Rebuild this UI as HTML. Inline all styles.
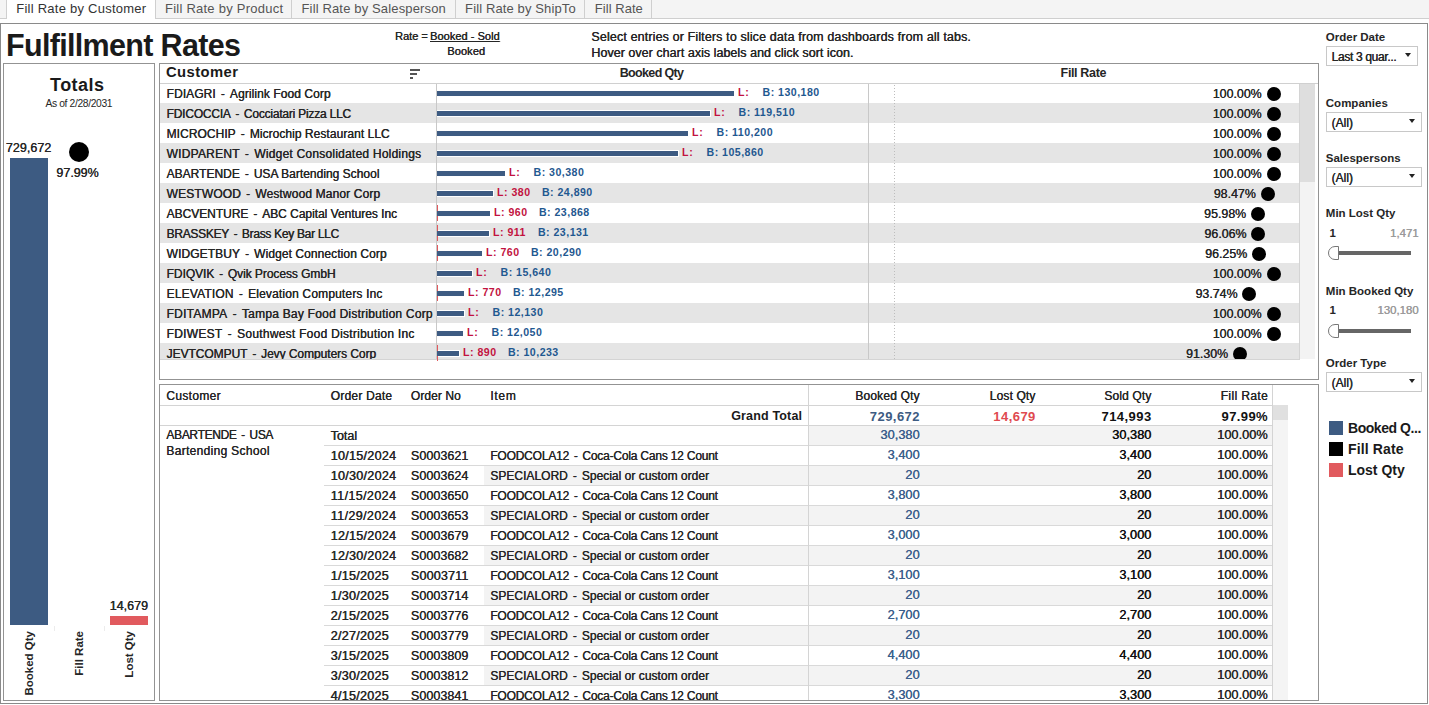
<!DOCTYPE html>
<html><head><meta charset="utf-8"><style>
html,body{margin:0;padding:0;width:1429px;height:705px;overflow:hidden;background:#fff;}
body{position:relative;font-family:"Liberation Sans",sans-serif;}
.a{position:absolute;}
.t{position:absolute;line-height:1;white-space:nowrap;}
.n{text-shadow:0.3px 0 0 currentColor;}
</style></head><body>
<div class="a" style="left:0px;top:0px;width:1429px;height:18px;background:#f4f4f4;"></div>
<div class="a" style="left:0px;top:18px;width:1429px;height:1px;background:#cfcfcf;"></div>
<div class="a" style="left:7px;top:0px;width:148px;height:19px;background:#ffffff;"></div>
<div class="a" style="left:6px;top:0px;width:1px;height:18px;background:#cfcfcf;"></div>
<div class="a" style="left:155px;top:0px;width:1px;height:18px;background:#cfcfcf;"></div>
<div class="a" style="left:291px;top:0px;width:1px;height:18px;background:#cfcfcf;"></div>
<div class="a" style="left:455px;top:0px;width:1px;height:18px;background:#cfcfcf;"></div>
<div class="a" style="left:584px;top:0px;width:1px;height:18px;background:#cfcfcf;"></div>
<div class="a" style="left:651px;top:0px;width:1px;height:18px;background:#cfcfcf;"></div>
<div class="a" style="left:0px;top:23px;width:1428px;height:681px;border:1px solid #8a8a8a;box-sizing:border-box;"></div>
<div class="a" style="left:3px;top:63px;width:152px;height:638px;border:1px solid #939393;box-sizing:border-box;"></div>
<div class="a" style="left:10px;top:158px;width:38px;height:467px;background:#3d5b82;"></div>
<div class="a" style="left:69px;top:141.7px;width:20px;height:20px;border-radius:50%;background:#000"></div>
<div class="a" style="left:110px;top:616px;width:38px;height:9px;background:#e15a5e;"></div>
<div class="a" style="left:54px;top:626px;width:1px;height:5px;background:#ececec;"></div>
<div class="a" style="left:104px;top:626px;width:1px;height:5px;background:#ececec;"></div>
<div class="a" style="left:-20.6px;top:672.5px;width:100px;height:16px;line-height:16px;text-align:right;font-size:11.5px;font-weight:bold;color:#262626;transform:rotate(-90deg);white-space:nowrap">Booked Qty</div>
<div class="a" style="left:29.0px;top:672.5px;width:100px;height:16px;line-height:16px;text-align:right;font-size:11.5px;font-weight:bold;color:#262626;transform:rotate(-90deg);white-space:nowrap">Fill Rate</div>
<div class="a" style="left:79.0px;top:672.5px;width:100px;height:16px;line-height:16px;text-align:right;font-size:11.5px;font-weight:bold;color:#262626;transform:rotate(-90deg);white-space:nowrap">Lost Qty</div>
<div class="a" style="left:159px;top:63px;width:1160px;height:317px;border:1px solid #939393;box-sizing:border-box;"></div>
<div class="a" style="left:410px;top:69px;width:10px;height:2px;background:#555;"></div>
<div class="a" style="left:410px;top:73px;width:7px;height:2px;background:#555;"></div>
<div class="a" style="left:410px;top:77px;width:3px;height:2px;background:#555;"></div>
<div class="a" style="left:160px;top:83px;width:1158px;height:1px;background:#d0d0d0;"></div>
<div class="a" style="left:160px;top:84px;width:1158px;height:275px;overflow:hidden">
<div class="a" style="left:0;top:19px;width:1139px;height:20px;background:#e5e5e5"></div>
<div class="a" style="left:0;top:59px;width:1139px;height:20px;background:#e5e5e5"></div>
<div class="a" style="left:0;top:99px;width:1139px;height:20px;background:#e5e5e5"></div>
<div class="a" style="left:0;top:139px;width:1139px;height:20px;background:#e5e5e5"></div>
<div class="a" style="left:0;top:179px;width:1139px;height:20px;background:#e5e5e5"></div>
<div class="a" style="left:0;top:219px;width:1139px;height:20px;background:#e5e5e5"></div>
<div class="a" style="left:0;top:259px;width:1139px;height:20px;background:#e5e5e5"></div>
</div>
<div class="a" style="left:436px;top:84px;width:1px;height:275px;background:#c8c8c8;"></div>
<div class="a" style="left:868px;top:84px;width:1px;height:275px;background:#c8c8c8;"></div>
<div class="a" style="left:894px;top:85px;width:1px;height:274px;background:repeating-linear-gradient(to bottom,#bdbdbd 0 1px,transparent 1px 3px)"></div>
<div class="a" style="left:1299px;top:84px;width:1px;height:275px;background:#d4d4d4;"></div>
<div class="a" style="left:160px;top:359px;width:1140px;height:1px;background:#d4d4d4;"></div>
<div class="a" style="left:1300px;top:84px;width:15px;height:275px;background:#f3f3f3;"></div>
<div class="a" style="left:1300px;top:84px;width:15px;height:98px;background:#dedede;"></div>
<div class="a" style="left:437px;top:91px;width:297px;height:5px;background:#3d5b82;"></div>
<div class="a" style="left:437px;top:111px;width:273px;height:5px;background:#3d5b82;box-shadow:1px 0 0 #fff,0 1px 0 #fff,0 -1px 0 #fff,1px 1px 0 #fff,1px -1px 0 #fff;"></div>
<div class="a" style="left:437px;top:131px;width:251px;height:5px;background:#3d5b82;"></div>
<div class="a" style="left:437px;top:151px;width:241px;height:5px;background:#3d5b82;box-shadow:1px 0 0 #fff,0 1px 0 #fff,0 -1px 0 #fff,1px 1px 0 #fff,1px -1px 0 #fff;"></div>
<div class="a" style="left:437px;top:171px;width:68px;height:5px;background:#3d5b82;"></div>
<div class="a" style="left:437px;top:191px;width:56px;height:5px;background:#3d5b82;box-shadow:1px 0 0 #fff,0 1px 0 #fff,0 -1px 0 #fff,1px 1px 0 #fff,1px -1px 0 #fff;"></div>
<div class="a" style="left:437px;top:211px;width:53px;height:5px;background:#3d5b82;"></div>
<div class="a" style="left:437px;top:205px;width:1px;height:16px;background:#e15a5e"></div>
<div class="a" style="left:437px;top:211px;width:53px;height:5px;background:#3d5b82;"></div>
<div class="a" style="left:437px;top:231px;width:52px;height:5px;background:#3d5b82;box-shadow:1px 0 0 #fff,0 1px 0 #fff,0 -1px 0 #fff,1px 1px 0 #fff,1px -1px 0 #fff;"></div>
<div class="a" style="left:437px;top:225px;width:1px;height:16px;background:#e15a5e"></div>
<div class="a" style="left:437px;top:231px;width:52px;height:5px;background:#3d5b82;"></div>
<div class="a" style="left:437px;top:251px;width:45px;height:5px;background:#3d5b82;"></div>
<div class="a" style="left:437px;top:245px;width:1px;height:16px;background:#e15a5e"></div>
<div class="a" style="left:437px;top:251px;width:45px;height:5px;background:#3d5b82;"></div>
<div class="a" style="left:437px;top:271px;width:35px;height:5px;background:#3d5b82;box-shadow:1px 0 0 #fff,0 1px 0 #fff,0 -1px 0 #fff,1px 1px 0 #fff,1px -1px 0 #fff;"></div>
<div class="a" style="left:437px;top:291px;width:27px;height:5px;background:#3d5b82;"></div>
<div class="a" style="left:437px;top:285px;width:1px;height:16px;background:#e15a5e"></div>
<div class="a" style="left:437px;top:291px;width:27px;height:5px;background:#3d5b82;"></div>
<div class="a" style="left:437px;top:311px;width:27px;height:5px;background:#3d5b82;box-shadow:1px 0 0 #fff,0 1px 0 #fff,0 -1px 0 #fff,1px 1px 0 #fff,1px -1px 0 #fff;"></div>
<div class="a" style="left:437px;top:331px;width:26px;height:5px;background:#3d5b82;"></div>
<div class="a" style="left:437px;top:351px;width:22px;height:5px;background:#3d5b82;box-shadow:1px 0 0 #fff,0 1px 0 #fff,0 -1px 0 #fff,1px 1px 0 #fff,1px -1px 0 #fff;"></div>
<div class="a" style="left:437px;top:345px;width:1px;height:16px;background:#e15a5e"></div>
<div class="a" style="left:437px;top:351px;width:22px;height:5px;background:#3d5b82;"></div>
<div class="a" style="left:860px;top:84px;width:439px;height:275px;overflow:hidden">
<div class="a" style="left:406.5999999999999px;top:2.5px;width:14px;height:14px;border-radius:50%;background:#000"></div>
<div class="a" style="left:406.5999999999999px;top:22.5px;width:14px;height:14px;border-radius:50%;background:#000"></div>
<div class="a" style="left:406.5999999999999px;top:42.5px;width:14px;height:14px;border-radius:50%;background:#000"></div>
<div class="a" style="left:406.5999999999999px;top:62.5px;width:14px;height:14px;border-radius:50%;background:#000"></div>
<div class="a" style="left:406.5999999999999px;top:82.5px;width:14px;height:14px;border-radius:50%;background:#000"></div>
<div class="a" style="left:400.6911399999999px;top:102.5px;width:14px;height:14px;border-radius:50%;background:#000"></div>
<div class="a" style="left:391.07475999999997px;top:122.5px;width:14px;height:14px;border-radius:50%;background:#000"></div>
<div class="a" style="left:391.3837199999998px;top:142.5px;width:14px;height:14px;border-radius:50%;background:#000"></div>
<div class="a" style="left:392.11749999999984px;top:162.5px;width:14px;height:14px;border-radius:50%;background:#000"></div>
<div class="a" style="left:406.5999999999999px;top:182.5px;width:14px;height:14px;border-radius:50%;background:#000"></div>
<div class="a" style="left:382.4238799999998px;top:202.5px;width:14px;height:14px;border-radius:50%;background:#000"></div>
<div class="a" style="left:406.5999999999999px;top:222.5px;width:14px;height:14px;border-radius:50%;background:#000"></div>
<div class="a" style="left:406.5999999999999px;top:242.5px;width:14px;height:14px;border-radius:50%;background:#000"></div>
<div class="a" style="left:373.00059999999985px;top:262.5px;width:14px;height:14px;border-radius:50%;background:#000"></div>
</div>
<div class="a" style="left:1326px;top:46px;width:92px;height:20px;background:#fff;border:1px solid #c8c8c8;box-sizing:border-box;"></div>
<div class="a" style="left:1405px;top:53px;width:0;height:0;border-left:3px solid transparent;border-right:3px solid transparent;border-top:4px solid #222"></div>
<div class="a" style="left:1326px;top:112px;width:96px;height:20px;background:#fff;border:1px solid #c8c8c8;box-sizing:border-box;"></div>
<div class="a" style="left:1409px;top:119px;width:0;height:0;border-left:3px solid transparent;border-right:3px solid transparent;border-top:4px solid #222"></div>
<div class="a" style="left:1326px;top:167px;width:96px;height:20px;background:#fff;border:1px solid #c8c8c8;box-sizing:border-box;"></div>
<div class="a" style="left:1409px;top:174px;width:0;height:0;border-left:3px solid transparent;border-right:3px solid transparent;border-top:4px solid #222"></div>
<div class="a" style="left:1339px;top:251.2px;width:72px;height:4px;background:#666;"></div>
<div class="a" style="left:1328px;top:246.2px;width:9px;height:12px;border:1px solid #777;border-radius:7px 0 0 7px;background:#fff"></div>
<div class="a" style="left:1339px;top:328.7px;width:72px;height:4px;background:#666;"></div>
<div class="a" style="left:1328px;top:323.7px;width:9px;height:12px;border:1px solid #777;border-radius:7px 0 0 7px;background:#fff"></div>
<div class="a" style="left:1326px;top:372px;width:96px;height:20px;background:#fff;border:1px solid #c8c8c8;box-sizing:border-box;"></div>
<div class="a" style="left:1409px;top:379px;width:0;height:0;border-left:3px solid transparent;border-right:3px solid transparent;border-top:4px solid #222"></div>
<div class="a" style="left:1329px;top:421px;width:14px;height:14px;background:#3d5b82;"></div>
<div class="a" style="left:1329px;top:442px;width:14px;height:14px;background:#000;"></div>
<div class="a" style="left:1329px;top:463px;width:14px;height:14px;background:#e15a5e;"></div>
<div class="a" style="left:159px;top:384px;width:1160px;height:317px;border:1px solid #939393;box-sizing:border-box;"></div>
<div class="a" style="left:160px;top:405px;width:1112px;height:1px;background:#d4d4d4;"></div>
<div class="a" style="left:808px;top:385px;width:1px;height:315px;background:#d4d4d4;"></div>
<div class="a" style="left:1272px;top:385px;width:1px;height:315px;background:#d4d4d4;"></div>
<div class="a" style="left:1273px;top:405px;width:15px;height:295px;background:#f4f4f4;"></div>
<div class="a" style="left:1273px;top:405px;width:15px;height:15px;background:#e0e0e0;"></div>
<div class="a" style="left:160px;top:425px;width:1112px;height:1px;background:#d4d4d4;"></div>
<div class="a" style="left:160px;top:425px;width:1112px;height:275px;overflow:hidden">
<div class="a" style="left:649px;top:1px;width:463px;height:19px;background:#f3f3f3"></div>
<div class="a" style="left:164px;top:20px;width:948px;height:1px;background:#d9d9d9"></div>
<div class="a" style="left:324px;top:41px;width:788px;height:19px;background:#f3f3f3"></div>
<div class="a" style="left:164px;top:40px;width:948px;height:1px;background:#d9d9d9"></div>
<div class="a" style="left:164px;top:60px;width:948px;height:1px;background:#d9d9d9"></div>
<div class="a" style="left:324px;top:81px;width:788px;height:19px;background:#f3f3f3"></div>
<div class="a" style="left:164px;top:80px;width:948px;height:1px;background:#d9d9d9"></div>
<div class="a" style="left:164px;top:100px;width:948px;height:1px;background:#d9d9d9"></div>
<div class="a" style="left:324px;top:121px;width:788px;height:19px;background:#f3f3f3"></div>
<div class="a" style="left:164px;top:120px;width:948px;height:1px;background:#d9d9d9"></div>
<div class="a" style="left:164px;top:140px;width:948px;height:1px;background:#d9d9d9"></div>
<div class="a" style="left:324px;top:161px;width:788px;height:19px;background:#f3f3f3"></div>
<div class="a" style="left:164px;top:160px;width:948px;height:1px;background:#d9d9d9"></div>
<div class="a" style="left:164px;top:180px;width:948px;height:1px;background:#d9d9d9"></div>
<div class="a" style="left:324px;top:201px;width:788px;height:19px;background:#f3f3f3"></div>
<div class="a" style="left:164px;top:200px;width:948px;height:1px;background:#d9d9d9"></div>
<div class="a" style="left:164px;top:220px;width:948px;height:1px;background:#d9d9d9"></div>
<div class="a" style="left:324px;top:241px;width:788px;height:19px;background:#f3f3f3"></div>
<div class="a" style="left:164px;top:240px;width:948px;height:1px;background:#d9d9d9"></div>
<div class="a" style="left:164px;top:260px;width:948px;height:1px;background:#d9d9d9"></div>
</div>
<div class="a" style="left:808px;top:385px;width:1px;height:315px;background:#d4d4d4;"></div>
<div class="t n" style="top:1.80px;font-size:13px;font-weight:normal;color:#333;letter-spacing:0.241px;left:16.30px;text-shadow:none;">Fill Rate by Customer</div>
<div class="t n" style="top:1.80px;font-size:13px;font-weight:normal;color:#555;letter-spacing:0.240px;left:165.00px;text-shadow:none;">Fill Rate by Product</div>
<div class="t n" style="top:1.80px;font-size:13px;font-weight:normal;color:#555;letter-spacing:0.148px;left:301.50px;text-shadow:none;">Fill Rate by Salesperson</div>
<div class="t n" style="top:1.80px;font-size:13px;font-weight:normal;color:#555;letter-spacing:0.123px;left:465.10px;text-shadow:none;">Fill Rate by ShipTo</div>
<div class="t n" style="top:1.80px;font-size:13px;font-weight:normal;color:#555;letter-spacing:0.040px;left:594.80px;text-shadow:none;">Fill Rate</div>
<div class="t" style="top:29.88px;font-size:30.5px;font-weight:bold;color:#1a1a1a;letter-spacing:-0.670px;left:6.00px;">Fulfillment Rates</div>
<div class="t n" style="top:30.89px;font-size:11px;font-weight:normal;color:#262626;left:395.00px;">Rate = </div>
<div class="t n" style="top:30.89px;font-size:11px;font-weight:normal;color:#262626;letter-spacing:0.033px;text-decoration:underline;left:430.00px;">Booked - Sold</div>
<div class="t n" style="top:45.89px;font-size:11px;font-weight:normal;color:#262626;letter-spacing:0.098px;left:447.20px;">Booked</div>
<div class="t n" style="top:30.82px;font-size:12.5px;font-weight:normal;color:#262626;letter-spacing:0.133px;left:591.30px;">Select entries or Filters to slice data from dashboards from all tabs.</div>
<div class="t n" style="top:46.92px;font-size:12.5px;font-weight:normal;color:#262626;letter-spacing:0.031px;left:591.30px;">Hover over chart axis labels and click sort icon.</div>
<div class="t" style="top:76.16px;font-size:18px;font-weight:bold;color:#1a1a1a;letter-spacing:0.466px;left:50.00px;">Totals</div>
<div class="t n" style="top:99.18px;font-size:10.3px;font-weight:normal;color:#262626;letter-spacing:-0.352px;left:45.40px;text-shadow:none;">As of 2/28/2031</div>
<div class="t n" style="top:142.32px;font-size:12.5px;font-weight:normal;color:#262626;letter-spacing:0.036px;left:5.70px;">729,672</div>
<div class="t n" style="top:167.12px;font-size:12.5px;font-weight:normal;color:#262626;letter-spacing:-0.019px;left:56.30px;">97.99%</div>
<div class="t n" style="top:600.32px;font-size:12.5px;font-weight:normal;color:#262626;letter-spacing:0.034px;left:109.60px;">14,679</div>
<div class="t" style="top:65.37px;font-size:14.8px;font-weight:bold;color:#1a1a1a;letter-spacing:0.419px;left:166.00px;">Customer</div>
<div class="t" style="top:67.12px;font-size:12.5px;font-weight:bold;color:#262626;letter-spacing:-0.650px;left:619.70px;">Booked Qty</div>
<div class="t" style="top:67.12px;font-size:12.5px;font-weight:bold;color:#262626;letter-spacing:-0.353px;left:1060.60px;">Fill Rate</div>
<div class="t n" style="top:88.44px;font-size:12px;font-weight:normal;color:#262626;letter-spacing:0.078px;clip-path:inset(-10px -10px -258.56px -10px);left:166.50px;">FDIAGRI<span style="padding:0 1.6px"> - </span>Agrilink Food Corp</div>
<div class="t" style="top:86.93px;font-size:10.6px;font-weight:bold;color:#c2133f;letter-spacing:0.800px;clip-path:inset(-10px -10px -261.47px -10px);left:738.00px;">L:</div>
<div class="t" style="top:86.93px;font-size:10.6px;font-weight:bold;color:#1f5890;letter-spacing:0.466px;clip-path:inset(-10px -10px -261.47px -10px);left:762.60px;">B: 130,180</div>
<div class="t n" style="top:88.10px;font-size:12.4px;font-weight:normal;color:#262626;clip-path:inset(-10px -10px -258.50px -10px);left:1212.68px;">100.00%</div>
<div class="t n" style="top:108.44px;font-size:12px;font-weight:normal;color:#262626;letter-spacing:-0.217px;clip-path:inset(-10px -10px -238.56px -10px);left:166.50px;">FDICOCCIA<span style="padding:0 1.6px"> - </span>Cocciatari Pizza LLC</div>
<div class="t" style="top:106.93px;font-size:10.6px;font-weight:bold;color:#c2133f;letter-spacing:0.800px;clip-path:inset(-10px -10px -241.47px -10px);left:714.00px;">L:</div>
<div class="t" style="top:106.93px;font-size:10.6px;font-weight:bold;color:#1f5890;letter-spacing:0.461px;clip-path:inset(-10px -10px -241.47px -10px);left:738.60px;">B: 119,510</div>
<div class="t n" style="top:108.10px;font-size:12.4px;font-weight:normal;color:#262626;clip-path:inset(-10px -10px -238.50px -10px);left:1212.68px;">100.00%</div>
<div class="t n" style="top:128.44px;font-size:12px;font-weight:normal;color:#262626;letter-spacing:0.050px;clip-path:inset(-10px -10px -218.56px -10px);left:166.50px;">MICROCHIP<span style="padding:0 1.6px"> - </span>Microchip Restaurant LLC</div>
<div class="t" style="top:126.93px;font-size:10.6px;font-weight:bold;color:#c2133f;letter-spacing:0.800px;clip-path:inset(-10px -10px -221.47px -10px);left:692.00px;">L:</div>
<div class="t" style="top:126.93px;font-size:10.6px;font-weight:bold;color:#1f5890;letter-spacing:0.461px;clip-path:inset(-10px -10px -221.47px -10px);left:716.60px;">B: 110,200</div>
<div class="t n" style="top:128.10px;font-size:12.4px;font-weight:normal;color:#262626;clip-path:inset(-10px -10px -218.50px -10px);left:1212.68px;">100.00%</div>
<div class="t n" style="top:148.44px;font-size:12px;font-weight:normal;color:#262626;letter-spacing:0.225px;clip-path:inset(-10px -10px -198.56px -10px);left:166.50px;">WIDPARENT<span style="padding:0 1.6px"> - </span>Widget Consolidated Holdings</div>
<div class="t" style="top:146.93px;font-size:10.6px;font-weight:bold;color:#c2133f;letter-spacing:0.800px;clip-path:inset(-10px -10px -201.47px -10px);left:682.00px;">L:</div>
<div class="t" style="top:146.93px;font-size:10.6px;font-weight:bold;color:#1f5890;letter-spacing:0.466px;clip-path:inset(-10px -10px -201.47px -10px);left:706.60px;">B: 105,860</div>
<div class="t n" style="top:148.10px;font-size:12.4px;font-weight:normal;color:#262626;clip-path:inset(-10px -10px -198.50px -10px);left:1212.68px;">100.00%</div>
<div class="t n" style="top:168.44px;font-size:12px;font-weight:normal;color:#262626;letter-spacing:0.013px;clip-path:inset(-10px -10px -178.56px -10px);left:166.50px;">ABARTENDE<span style="padding:0 1.6px"> - </span>USA Bartending School</div>
<div class="t" style="top:166.93px;font-size:10.6px;font-weight:bold;color:#c2133f;letter-spacing:0.800px;clip-path:inset(-10px -10px -181.47px -10px);left:509.00px;">L:</div>
<div class="t" style="top:166.93px;font-size:10.6px;font-weight:bold;color:#1f5890;letter-spacing:0.465px;clip-path:inset(-10px -10px -181.47px -10px);left:533.60px;">B: 30,380</div>
<div class="t n" style="top:168.10px;font-size:12.4px;font-weight:normal;color:#262626;clip-path:inset(-10px -10px -178.50px -10px);left:1212.68px;">100.00%</div>
<div class="t n" style="top:188.44px;font-size:12px;font-weight:normal;color:#262626;letter-spacing:0.132px;clip-path:inset(-10px -10px -158.56px -10px);left:166.50px;">WESTWOOD<span style="padding:0 1.6px"> - </span>Westwood Manor Corp</div>
<div class="t" style="top:186.93px;font-size:10.6px;font-weight:bold;color:#c2133f;letter-spacing:0.490px;clip-path:inset(-10px -10px -161.47px -10px);left:497.00px;">L: 380</div>
<div class="t" style="top:186.93px;font-size:10.6px;font-weight:bold;color:#1f5890;letter-spacing:0.465px;clip-path:inset(-10px -10px -161.47px -10px);left:542.00px;">B: 24,890</div>
<div class="t n" style="top:188.10px;font-size:12.4px;font-weight:normal;color:#262626;clip-path:inset(-10px -10px -158.50px -10px);left:1213.67px;">98.47%</div>
<div class="t n" style="top:208.44px;font-size:12px;font-weight:normal;color:#262626;letter-spacing:-0.022px;clip-path:inset(-10px -10px -138.56px -10px);left:166.50px;">ABCVENTURE<span style="padding:0 1.6px"> - </span>ABC Capital Ventures Inc</div>
<div class="t" style="top:206.93px;font-size:10.6px;font-weight:bold;color:#c2133f;letter-spacing:0.490px;clip-path:inset(-10px -10px -141.47px -10px);left:494.00px;">L: 960</div>
<div class="t" style="top:206.93px;font-size:10.6px;font-weight:bold;color:#1f5890;letter-spacing:0.465px;clip-path:inset(-10px -10px -141.47px -10px);left:539.00px;">B: 23,868</div>
<div class="t n" style="top:208.10px;font-size:12.4px;font-weight:normal;color:#262626;clip-path:inset(-10px -10px -138.50px -10px);left:1204.05px;">95.98%</div>
<div class="t n" style="top:228.44px;font-size:12px;font-weight:normal;color:#262626;letter-spacing:-0.296px;clip-path:inset(-10px -10px -118.56px -10px);left:166.50px;">BRASSKEY<span style="padding:0 1.6px"> - </span>Brass Key Bar LLC</div>
<div class="t" style="top:226.93px;font-size:10.6px;font-weight:bold;color:#c2133f;letter-spacing:0.481px;clip-path:inset(-10px -10px -121.47px -10px);left:493.00px;">L: 911</div>
<div class="t" style="top:226.93px;font-size:10.6px;font-weight:bold;color:#1f5890;letter-spacing:0.465px;clip-path:inset(-10px -10px -121.47px -10px);left:538.00px;">B: 23,131</div>
<div class="t n" style="top:228.10px;font-size:12.4px;font-weight:normal;color:#262626;clip-path:inset(-10px -10px -118.50px -10px);left:1204.36px;">96.06%</div>
<div class="t n" style="top:248.44px;font-size:12px;font-weight:normal;color:#262626;letter-spacing:0.083px;clip-path:inset(-10px -10px -98.56px -10px);left:166.50px;">WIDGETBUY<span style="padding:0 1.6px"> - </span>Widget Connection Corp</div>
<div class="t" style="top:246.93px;font-size:10.6px;font-weight:bold;color:#c2133f;letter-spacing:0.490px;clip-path:inset(-10px -10px -101.47px -10px);left:486.00px;">L: 760</div>
<div class="t" style="top:246.93px;font-size:10.6px;font-weight:bold;color:#1f5890;letter-spacing:0.465px;clip-path:inset(-10px -10px -101.47px -10px);left:531.00px;">B: 20,290</div>
<div class="t n" style="top:248.10px;font-size:12.4px;font-weight:normal;color:#262626;clip-path:inset(-10px -10px -98.50px -10px);left:1205.09px;">96.25%</div>
<div class="t n" style="top:268.44px;font-size:12px;font-weight:normal;color:#262626;letter-spacing:-0.060px;clip-path:inset(-10px -10px -78.56px -10px);left:166.50px;">FDIQVIK<span style="padding:0 1.6px"> - </span>Qvik Process GmbH</div>
<div class="t" style="top:266.93px;font-size:10.6px;font-weight:bold;color:#c2133f;letter-spacing:0.800px;clip-path:inset(-10px -10px -81.47px -10px);left:476.00px;">L:</div>
<div class="t" style="top:266.93px;font-size:10.6px;font-weight:bold;color:#1f5890;letter-spacing:0.465px;clip-path:inset(-10px -10px -81.47px -10px);left:500.60px;">B: 15,640</div>
<div class="t n" style="top:268.10px;font-size:12.4px;font-weight:normal;color:#262626;clip-path:inset(-10px -10px -78.50px -10px);left:1212.68px;">100.00%</div>
<div class="t n" style="top:288.44px;font-size:12px;font-weight:normal;color:#262626;letter-spacing:0.166px;clip-path:inset(-10px -10px -58.56px -10px);left:166.50px;">ELEVATION<span style="padding:0 1.6px"> - </span>Elevation Computers Inc</div>
<div class="t" style="top:286.93px;font-size:10.6px;font-weight:bold;color:#c2133f;letter-spacing:0.490px;clip-path:inset(-10px -10px -61.47px -10px);left:468.00px;">L: 770</div>
<div class="t" style="top:286.93px;font-size:10.6px;font-weight:bold;color:#1f5890;letter-spacing:0.465px;clip-path:inset(-10px -10px -61.47px -10px);left:513.00px;">B: 12,295</div>
<div class="t n" style="top:288.10px;font-size:12.4px;font-weight:normal;color:#262626;clip-path:inset(-10px -10px -58.50px -10px);left:1195.40px;">93.74%</div>
<div class="t n" style="top:308.44px;font-size:12px;font-weight:normal;color:#262626;letter-spacing:0.234px;clip-path:inset(-10px -10px -38.56px -10px);left:166.50px;">FDITAMPA<span style="padding:0 1.6px"> - </span>Tampa Bay Food Distribution Corp</div>
<div class="t" style="top:306.93px;font-size:10.6px;font-weight:bold;color:#c2133f;letter-spacing:0.800px;clip-path:inset(-10px -10px -41.47px -10px);left:468.00px;">L:</div>
<div class="t" style="top:306.93px;font-size:10.6px;font-weight:bold;color:#1f5890;letter-spacing:0.465px;clip-path:inset(-10px -10px -41.47px -10px);left:492.60px;">B: 12,130</div>
<div class="t n" style="top:308.10px;font-size:12.4px;font-weight:normal;color:#262626;clip-path:inset(-10px -10px -38.50px -10px);left:1212.68px;">100.00%</div>
<div class="t n" style="top:328.44px;font-size:12px;font-weight:normal;color:#262626;letter-spacing:0.263px;clip-path:inset(-10px -10px -18.56px -10px);left:166.50px;">FDIWEST<span style="padding:0 1.6px"> - </span>Southwest Food Distribution Inc</div>
<div class="t" style="top:326.93px;font-size:10.6px;font-weight:bold;color:#c2133f;letter-spacing:0.800px;clip-path:inset(-10px -10px -21.47px -10px);left:467.00px;">L:</div>
<div class="t" style="top:326.93px;font-size:10.6px;font-weight:bold;color:#1f5890;letter-spacing:0.465px;clip-path:inset(-10px -10px -21.47px -10px);left:491.60px;">B: 12,050</div>
<div class="t n" style="top:328.10px;font-size:12.4px;font-weight:normal;color:#262626;clip-path:inset(-10px -10px -18.50px -10px);left:1212.68px;">100.00%</div>
<div class="t n" style="top:348.44px;font-size:12px;font-weight:normal;color:#262626;letter-spacing:-0.056px;clip-path:inset(-10px -10px 1.44px -10px);left:166.50px;">JEVTCOMPUT<span style="padding:0 1.6px"> - </span>Jevy Computers Corp</div>
<div class="t" style="top:346.93px;font-size:10.6px;font-weight:bold;color:#c2133f;letter-spacing:0.490px;clip-path:inset(-10px -10px -1.47px -10px);left:463.00px;">L: 890</div>
<div class="t" style="top:346.93px;font-size:10.6px;font-weight:bold;color:#1f5890;letter-spacing:0.465px;clip-path:inset(-10px -10px -1.47px -10px);left:508.00px;">B: 10,233</div>
<div class="t n" style="top:348.10px;font-size:12.4px;font-weight:normal;color:#262626;clip-path:inset(-10px -10px 1.50px -10px);left:1185.98px;">91.30%</div>
<div class="t" style="top:32.07px;font-size:11.5px;font-weight:bold;color:#262626;left:1325.80px;">Order Date</div>
<div class="t n" style="top:51.04px;font-size:12px;font-weight:normal;color:#262626;letter-spacing:-0.337px;left:1331.50px;">Last 3 quar...</div>
<div class="t" style="top:97.97px;font-size:11.5px;font-weight:bold;color:#262626;left:1325.80px;">Companies</div>
<div class="t n" style="top:117.04px;font-size:12px;font-weight:normal;color:#262626;left:1331.50px;">(All)</div>
<div class="t" style="top:152.87px;font-size:11.5px;font-weight:bold;color:#262626;left:1325.80px;">Salespersons</div>
<div class="t n" style="top:172.04px;font-size:12px;font-weight:normal;color:#262626;left:1331.50px;">(All)</div>
<div class="t" style="top:207.97px;font-size:11.5px;font-weight:bold;color:#262626;left:1325.80px;">Min Lost Qty</div>
<div class="t" style="top:227.95px;font-size:11.4px;font-weight:bold;color:#262626;left:1329.60px;">1</div>
<div class="t n" style="top:227.95px;font-size:11.4px;font-weight:normal;color:#9a9a9a;left:1390.00px;">1,471</div>
<div class="t" style="top:285.57px;font-size:11.5px;font-weight:bold;color:#262626;left:1325.80px;">Min Booked Qty</div>
<div class="t" style="top:305.45px;font-size:11.4px;font-weight:bold;color:#262626;left:1329.60px;">1</div>
<div class="t n" style="top:305.45px;font-size:11.4px;font-weight:normal;color:#9a9a9a;left:1377.33px;">130,180</div>
<div class="t" style="top:358.27px;font-size:11.5px;font-weight:bold;color:#262626;left:1325.80px;">Order Type</div>
<div class="t n" style="top:377.04px;font-size:12px;font-weight:normal;color:#262626;left:1331.50px;">(All)</div>
<div class="t" style="top:420.95px;font-size:14px;font-weight:bold;color:#1a1a1a;letter-spacing:-0.449px;left:1348.00px;">Booked Q...</div>
<div class="t" style="top:441.95px;font-size:14px;font-weight:bold;color:#1a1a1a;letter-spacing:0.143px;left:1348.00px;">Fill Rate</div>
<div class="t" style="top:462.85px;font-size:14px;font-weight:bold;color:#1a1a1a;letter-spacing:-0.011px;left:1348.00px;">Lost Qty</div>
<div class="t n" style="top:389.84px;font-size:12px;font-weight:normal;color:#262626;letter-spacing:0.312px;left:166.30px;">Customer</div>
<div class="t n" style="top:389.84px;font-size:12px;font-weight:normal;color:#262626;letter-spacing:0.227px;left:330.60px;">Order Date</div>
<div class="t n" style="top:389.84px;font-size:12px;font-weight:normal;color:#262626;letter-spacing:0.079px;left:410.80px;">Order No</div>
<div class="t n" style="top:389.84px;font-size:12px;font-weight:normal;color:#262626;letter-spacing:0.721px;left:490.20px;">Item</div>
<div class="t n" style="top:389.84px;font-size:12px;font-weight:normal;color:#262626;letter-spacing:0.178px;left:855.20px;">Booked Qty</div>
<div class="t n" style="top:389.84px;font-size:12px;font-weight:normal;color:#262626;letter-spacing:0.145px;left:989.60px;">Lost Qty</div>
<div class="t n" style="top:389.84px;font-size:12px;font-weight:normal;color:#262626;letter-spacing:0.140px;left:1104.20px;">Sold Qty</div>
<div class="t n" style="top:389.84px;font-size:12px;font-weight:normal;color:#262626;letter-spacing:0.374px;left:1220.60px;">Fill Rate</div>
<div class="t" style="top:409.92px;font-size:12.5px;font-weight:bold;color:#1a1a1a;letter-spacing:0.159px;left:731.20px;">Grand Total</div>
<div class="t" style="top:409.50px;font-size:13px;font-weight:bold;color:#3d5b82;letter-spacing:0.451px;left:869.80px;">729,672</div>
<div class="t" style="top:409.50px;font-size:13px;font-weight:bold;color:#e04a50;letter-spacing:0.448px;left:993.30px;">14,679</div>
<div class="t" style="top:409.50px;font-size:13px;font-weight:bold;color:#111;letter-spacing:0.451px;left:1101.50px;">714,993</div>
<div class="t" style="top:409.50px;font-size:13px;font-weight:bold;color:#111;letter-spacing:0.382px;left:1221.60px;">97.99%</div>
<div class="t n" style="top:429.14px;font-size:12px;font-weight:normal;color:#262626;letter-spacing:-0.333px;left:166.30px;">ABARTENDE<span style="padding:0 1.6px"> - </span>USA</div>
<div class="t n" style="top:445.24px;font-size:12px;font-weight:normal;color:#262626;letter-spacing:0.308px;left:166.30px;">Bartending School</div>
<div class="t n" style="top:429.92px;font-size:12.5px;font-weight:normal;color:#262626;left:330.60px;">Total</div>
<div class="t n" style="top:429.36px;font-size:12.8px;font-weight:normal;color:#3b5f8c;left:880.36px;">30,380</div>
<div class="t n" style="top:429.36px;font-size:12.8px;font-weight:normal;color:#0d0d0d;left:1112.06px;text-shadow:0.45px 0 0 #0d0d0d;">30,380</div>
<div class="t n" style="top:429.36px;font-size:12.8px;font-weight:normal;color:#262626;left:1217.08px;">100.00%</div>
<div class="t n" style="top:449.53px;font-size:12.6px;font-weight:normal;color:#262626;letter-spacing:0.252px;clip-path:inset(-10px -10px -237.87px -10px);left:330.60px;">10/15/2024</div>
<div class="t n" style="top:449.53px;font-size:12.6px;font-weight:normal;color:#262626;letter-spacing:-0.004px;clip-path:inset(-10px -10px -237.87px -10px);left:410.80px;">S0003621</div>
<div class="t n" style="top:450.04px;font-size:12px;font-weight:normal;color:#262626;letter-spacing:-0.198px;clip-path:inset(-10px -10px -237.96px -10px);left:490.20px;">FOODCOLA12<span style="padding:0 1.6px"> - </span>Coca-Cola Cans 12 Count</div>
<div class="t n" style="top:449.36px;font-size:12.8px;font-weight:normal;color:#3b5f8c;clip-path:inset(-10px -10px -237.84px -10px);left:887.48px;">3,400</div>
<div class="t n" style="top:449.36px;font-size:12.8px;font-weight:normal;color:#0d0d0d;clip-path:inset(-10px -10px -237.84px -10px);left:1119.18px;text-shadow:0.45px 0 0 #0d0d0d;">3,400</div>
<div class="t n" style="top:449.36px;font-size:12.8px;font-weight:normal;color:#262626;clip-path:inset(-10px -10px -237.84px -10px);left:1217.08px;">100.00%</div>
<div class="t n" style="top:469.53px;font-size:12.6px;font-weight:normal;color:#262626;letter-spacing:0.252px;clip-path:inset(-10px -10px -217.87px -10px);left:330.60px;">10/30/2024</div>
<div class="t n" style="top:469.53px;font-size:12.6px;font-weight:normal;color:#262626;letter-spacing:-0.004px;clip-path:inset(-10px -10px -217.87px -10px);left:410.80px;">S0003624</div>
<div class="t n" style="top:470.04px;font-size:12px;font-weight:normal;color:#262626;letter-spacing:0.022px;clip-path:inset(-10px -10px -217.96px -10px);left:490.20px;">SPECIALORD<span style="padding:0 1.6px"> - </span>Special or custom order</div>
<div class="t n" style="top:469.36px;font-size:12.8px;font-weight:normal;color:#3b5f8c;clip-path:inset(-10px -10px -217.84px -10px);left:905.27px;">20</div>
<div class="t n" style="top:469.36px;font-size:12.8px;font-weight:normal;color:#0d0d0d;clip-path:inset(-10px -10px -217.84px -10px);left:1136.97px;text-shadow:0.45px 0 0 #0d0d0d;">20</div>
<div class="t n" style="top:469.36px;font-size:12.8px;font-weight:normal;color:#262626;clip-path:inset(-10px -10px -217.84px -10px);left:1217.08px;">100.00%</div>
<div class="t n" style="top:489.53px;font-size:12.6px;font-weight:normal;color:#262626;letter-spacing:0.356px;clip-path:inset(-10px -10px -197.87px -10px);left:330.60px;">11/15/2024</div>
<div class="t n" style="top:489.53px;font-size:12.6px;font-weight:normal;color:#262626;letter-spacing:-0.004px;clip-path:inset(-10px -10px -197.87px -10px);left:410.80px;">S0003650</div>
<div class="t n" style="top:490.04px;font-size:12px;font-weight:normal;color:#262626;letter-spacing:-0.198px;clip-path:inset(-10px -10px -197.96px -10px);left:490.20px;">FOODCOLA12<span style="padding:0 1.6px"> - </span>Coca-Cola Cans 12 Count</div>
<div class="t n" style="top:489.36px;font-size:12.8px;font-weight:normal;color:#3b5f8c;clip-path:inset(-10px -10px -197.84px -10px);left:887.48px;">3,800</div>
<div class="t n" style="top:489.36px;font-size:12.8px;font-weight:normal;color:#0d0d0d;clip-path:inset(-10px -10px -197.84px -10px);left:1119.18px;text-shadow:0.45px 0 0 #0d0d0d;">3,800</div>
<div class="t n" style="top:489.36px;font-size:12.8px;font-weight:normal;color:#262626;clip-path:inset(-10px -10px -197.84px -10px);left:1217.08px;">100.00%</div>
<div class="t n" style="top:509.53px;font-size:12.6px;font-weight:normal;color:#262626;letter-spacing:0.356px;clip-path:inset(-10px -10px -177.87px -10px);left:330.60px;">11/29/2024</div>
<div class="t n" style="top:509.53px;font-size:12.6px;font-weight:normal;color:#262626;letter-spacing:-0.004px;clip-path:inset(-10px -10px -177.87px -10px);left:410.80px;">S0003653</div>
<div class="t n" style="top:510.04px;font-size:12px;font-weight:normal;color:#262626;letter-spacing:0.022px;clip-path:inset(-10px -10px -177.96px -10px);left:490.20px;">SPECIALORD<span style="padding:0 1.6px"> - </span>Special or custom order</div>
<div class="t n" style="top:509.36px;font-size:12.8px;font-weight:normal;color:#3b5f8c;clip-path:inset(-10px -10px -177.84px -10px);left:905.27px;">20</div>
<div class="t n" style="top:509.36px;font-size:12.8px;font-weight:normal;color:#0d0d0d;clip-path:inset(-10px -10px -177.84px -10px);left:1136.97px;text-shadow:0.45px 0 0 #0d0d0d;">20</div>
<div class="t n" style="top:509.36px;font-size:12.8px;font-weight:normal;color:#262626;clip-path:inset(-10px -10px -177.84px -10px);left:1217.08px;">100.00%</div>
<div class="t n" style="top:529.53px;font-size:12.6px;font-weight:normal;color:#262626;letter-spacing:0.252px;clip-path:inset(-10px -10px -157.87px -10px);left:330.60px;">12/15/2024</div>
<div class="t n" style="top:529.53px;font-size:12.6px;font-weight:normal;color:#262626;letter-spacing:-0.004px;clip-path:inset(-10px -10px -157.87px -10px);left:410.80px;">S0003679</div>
<div class="t n" style="top:530.04px;font-size:12px;font-weight:normal;color:#262626;letter-spacing:-0.198px;clip-path:inset(-10px -10px -157.96px -10px);left:490.20px;">FOODCOLA12<span style="padding:0 1.6px"> - </span>Coca-Cola Cans 12 Count</div>
<div class="t n" style="top:529.36px;font-size:12.8px;font-weight:normal;color:#3b5f8c;clip-path:inset(-10px -10px -157.84px -10px);left:887.48px;">3,000</div>
<div class="t n" style="top:529.36px;font-size:12.8px;font-weight:normal;color:#0d0d0d;clip-path:inset(-10px -10px -157.84px -10px);left:1119.18px;text-shadow:0.45px 0 0 #0d0d0d;">3,000</div>
<div class="t n" style="top:529.36px;font-size:12.8px;font-weight:normal;color:#262626;clip-path:inset(-10px -10px -157.84px -10px);left:1217.08px;">100.00%</div>
<div class="t n" style="top:549.53px;font-size:12.6px;font-weight:normal;color:#262626;letter-spacing:0.252px;clip-path:inset(-10px -10px -137.87px -10px);left:330.60px;">12/30/2024</div>
<div class="t n" style="top:549.53px;font-size:12.6px;font-weight:normal;color:#262626;letter-spacing:-0.004px;clip-path:inset(-10px -10px -137.87px -10px);left:410.80px;">S0003682</div>
<div class="t n" style="top:550.04px;font-size:12px;font-weight:normal;color:#262626;letter-spacing:0.022px;clip-path:inset(-10px -10px -137.96px -10px);left:490.20px;">SPECIALORD<span style="padding:0 1.6px"> - </span>Special or custom order</div>
<div class="t n" style="top:549.36px;font-size:12.8px;font-weight:normal;color:#3b5f8c;clip-path:inset(-10px -10px -137.84px -10px);left:905.27px;">20</div>
<div class="t n" style="top:549.36px;font-size:12.8px;font-weight:normal;color:#0d0d0d;clip-path:inset(-10px -10px -137.84px -10px);left:1136.97px;text-shadow:0.45px 0 0 #0d0d0d;">20</div>
<div class="t n" style="top:549.36px;font-size:12.8px;font-weight:normal;color:#262626;clip-path:inset(-10px -10px -137.84px -10px);left:1217.08px;">100.00%</div>
<div class="t n" style="top:569.53px;font-size:12.6px;font-weight:normal;color:#262626;letter-spacing:0.247px;clip-path:inset(-10px -10px -117.87px -10px);left:330.60px;">1/15/2025</div>
<div class="t n" style="top:569.53px;font-size:12.6px;font-weight:normal;color:#262626;letter-spacing:0.130px;clip-path:inset(-10px -10px -117.87px -10px);left:410.80px;">S0003711</div>
<div class="t n" style="top:570.04px;font-size:12px;font-weight:normal;color:#262626;letter-spacing:-0.198px;clip-path:inset(-10px -10px -117.96px -10px);left:490.20px;">FOODCOLA12<span style="padding:0 1.6px"> - </span>Coca-Cola Cans 12 Count</div>
<div class="t n" style="top:569.36px;font-size:12.8px;font-weight:normal;color:#3b5f8c;clip-path:inset(-10px -10px -117.84px -10px);left:887.48px;">3,100</div>
<div class="t n" style="top:569.36px;font-size:12.8px;font-weight:normal;color:#0d0d0d;clip-path:inset(-10px -10px -117.84px -10px);left:1119.18px;text-shadow:0.45px 0 0 #0d0d0d;">3,100</div>
<div class="t n" style="top:569.36px;font-size:12.8px;font-weight:normal;color:#262626;clip-path:inset(-10px -10px -117.84px -10px);left:1217.08px;">100.00%</div>
<div class="t n" style="top:589.53px;font-size:12.6px;font-weight:normal;color:#262626;letter-spacing:0.247px;clip-path:inset(-10px -10px -97.87px -10px);left:330.60px;">1/30/2025</div>
<div class="t n" style="top:589.53px;font-size:12.6px;font-weight:normal;color:#262626;letter-spacing:-0.004px;clip-path:inset(-10px -10px -97.87px -10px);left:410.80px;">S0003714</div>
<div class="t n" style="top:590.04px;font-size:12px;font-weight:normal;color:#262626;letter-spacing:0.022px;clip-path:inset(-10px -10px -97.96px -10px);left:490.20px;">SPECIALORD<span style="padding:0 1.6px"> - </span>Special or custom order</div>
<div class="t n" style="top:589.36px;font-size:12.8px;font-weight:normal;color:#3b5f8c;clip-path:inset(-10px -10px -97.84px -10px);left:905.27px;">20</div>
<div class="t n" style="top:589.36px;font-size:12.8px;font-weight:normal;color:#0d0d0d;clip-path:inset(-10px -10px -97.84px -10px);left:1136.97px;text-shadow:0.45px 0 0 #0d0d0d;">20</div>
<div class="t n" style="top:589.36px;font-size:12.8px;font-weight:normal;color:#262626;clip-path:inset(-10px -10px -97.84px -10px);left:1217.08px;">100.00%</div>
<div class="t n" style="top:609.53px;font-size:12.6px;font-weight:normal;color:#262626;letter-spacing:0.247px;clip-path:inset(-10px -10px -77.87px -10px);left:330.60px;">2/15/2025</div>
<div class="t n" style="top:609.53px;font-size:12.6px;font-weight:normal;color:#262626;letter-spacing:-0.004px;clip-path:inset(-10px -10px -77.87px -10px);left:410.80px;">S0003776</div>
<div class="t n" style="top:610.04px;font-size:12px;font-weight:normal;color:#262626;letter-spacing:-0.198px;clip-path:inset(-10px -10px -77.96px -10px);left:490.20px;">FOODCOLA12<span style="padding:0 1.6px"> - </span>Coca-Cola Cans 12 Count</div>
<div class="t n" style="top:609.36px;font-size:12.8px;font-weight:normal;color:#3b5f8c;clip-path:inset(-10px -10px -77.84px -10px);left:887.48px;">2,700</div>
<div class="t n" style="top:609.36px;font-size:12.8px;font-weight:normal;color:#0d0d0d;clip-path:inset(-10px -10px -77.84px -10px);left:1119.18px;text-shadow:0.45px 0 0 #0d0d0d;">2,700</div>
<div class="t n" style="top:609.36px;font-size:12.8px;font-weight:normal;color:#262626;clip-path:inset(-10px -10px -77.84px -10px);left:1217.08px;">100.00%</div>
<div class="t n" style="top:629.53px;font-size:12.6px;font-weight:normal;color:#262626;letter-spacing:0.247px;clip-path:inset(-10px -10px -57.87px -10px);left:330.60px;">2/27/2025</div>
<div class="t n" style="top:629.53px;font-size:12.6px;font-weight:normal;color:#262626;letter-spacing:-0.004px;clip-path:inset(-10px -10px -57.87px -10px);left:410.80px;">S0003779</div>
<div class="t n" style="top:630.04px;font-size:12px;font-weight:normal;color:#262626;letter-spacing:0.022px;clip-path:inset(-10px -10px -57.96px -10px);left:490.20px;">SPECIALORD<span style="padding:0 1.6px"> - </span>Special or custom order</div>
<div class="t n" style="top:629.36px;font-size:12.8px;font-weight:normal;color:#3b5f8c;clip-path:inset(-10px -10px -57.84px -10px);left:905.27px;">20</div>
<div class="t n" style="top:629.36px;font-size:12.8px;font-weight:normal;color:#0d0d0d;clip-path:inset(-10px -10px -57.84px -10px);left:1136.97px;text-shadow:0.45px 0 0 #0d0d0d;">20</div>
<div class="t n" style="top:629.36px;font-size:12.8px;font-weight:normal;color:#262626;clip-path:inset(-10px -10px -57.84px -10px);left:1217.08px;">100.00%</div>
<div class="t n" style="top:649.53px;font-size:12.6px;font-weight:normal;color:#262626;letter-spacing:0.247px;clip-path:inset(-10px -10px -37.87px -10px);left:330.60px;">3/15/2025</div>
<div class="t n" style="top:649.53px;font-size:12.6px;font-weight:normal;color:#262626;letter-spacing:-0.004px;clip-path:inset(-10px -10px -37.87px -10px);left:410.80px;">S0003809</div>
<div class="t n" style="top:650.04px;font-size:12px;font-weight:normal;color:#262626;letter-spacing:-0.198px;clip-path:inset(-10px -10px -37.96px -10px);left:490.20px;">FOODCOLA12<span style="padding:0 1.6px"> - </span>Coca-Cola Cans 12 Count</div>
<div class="t n" style="top:649.36px;font-size:12.8px;font-weight:normal;color:#3b5f8c;clip-path:inset(-10px -10px -37.84px -10px);left:887.48px;">4,400</div>
<div class="t n" style="top:649.36px;font-size:12.8px;font-weight:normal;color:#0d0d0d;clip-path:inset(-10px -10px -37.84px -10px);left:1119.18px;text-shadow:0.45px 0 0 #0d0d0d;">4,400</div>
<div class="t n" style="top:649.36px;font-size:12.8px;font-weight:normal;color:#262626;clip-path:inset(-10px -10px -37.84px -10px);left:1217.08px;">100.00%</div>
<div class="t n" style="top:669.53px;font-size:12.6px;font-weight:normal;color:#262626;letter-spacing:0.247px;clip-path:inset(-10px -10px -17.87px -10px);left:330.60px;">3/30/2025</div>
<div class="t n" style="top:669.53px;font-size:12.6px;font-weight:normal;color:#262626;letter-spacing:-0.004px;clip-path:inset(-10px -10px -17.87px -10px);left:410.80px;">S0003812</div>
<div class="t n" style="top:670.04px;font-size:12px;font-weight:normal;color:#262626;letter-spacing:0.022px;clip-path:inset(-10px -10px -17.96px -10px);left:490.20px;">SPECIALORD<span style="padding:0 1.6px"> - </span>Special or custom order</div>
<div class="t n" style="top:669.36px;font-size:12.8px;font-weight:normal;color:#3b5f8c;clip-path:inset(-10px -10px -17.84px -10px);left:905.27px;">20</div>
<div class="t n" style="top:669.36px;font-size:12.8px;font-weight:normal;color:#0d0d0d;clip-path:inset(-10px -10px -17.84px -10px);left:1136.97px;text-shadow:0.45px 0 0 #0d0d0d;">20</div>
<div class="t n" style="top:669.36px;font-size:12.8px;font-weight:normal;color:#262626;clip-path:inset(-10px -10px -17.84px -10px);left:1217.08px;">100.00%</div>
<div class="t n" style="top:689.53px;font-size:12.6px;font-weight:normal;color:#262626;letter-spacing:0.247px;clip-path:inset(-10px -10px 2.13px -10px);left:330.60px;">4/15/2025</div>
<div class="t n" style="top:689.53px;font-size:12.6px;font-weight:normal;color:#262626;letter-spacing:-0.004px;clip-path:inset(-10px -10px 2.13px -10px);left:410.80px;">S0003841</div>
<div class="t n" style="top:690.04px;font-size:12px;font-weight:normal;color:#262626;letter-spacing:-0.198px;clip-path:inset(-10px -10px 2.04px -10px);left:490.20px;">FOODCOLA12<span style="padding:0 1.6px"> - </span>Coca-Cola Cans 12 Count</div>
<div class="t n" style="top:689.36px;font-size:12.8px;font-weight:normal;color:#3b5f8c;clip-path:inset(-10px -10px 2.16px -10px);left:887.48px;">3,300</div>
<div class="t n" style="top:689.36px;font-size:12.8px;font-weight:normal;color:#0d0d0d;clip-path:inset(-10px -10px 2.16px -10px);left:1119.18px;text-shadow:0.45px 0 0 #0d0d0d;">3,300</div>
<div class="t n" style="top:689.36px;font-size:12.8px;font-weight:normal;color:#262626;clip-path:inset(-10px -10px 2.16px -10px);left:1217.08px;">100.00%</div>
</body></html>
